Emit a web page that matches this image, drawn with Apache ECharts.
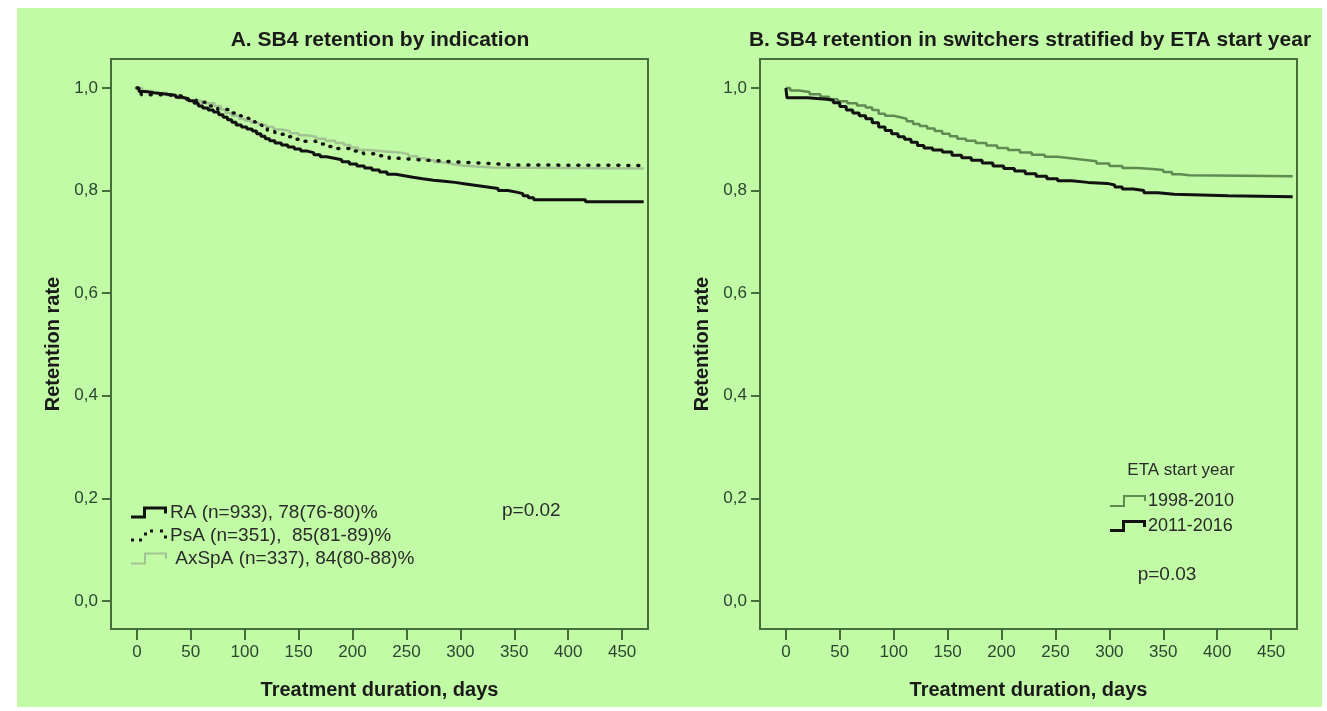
<!DOCTYPE html>
<html>
<head>
<meta charset="utf-8">
<script src="https://cdn.jsdelivr.net/npm/echarts@6/dist/echarts.min.js"></script>
<style>
  html, body { margin: 0; padding: 0; background: #ffffff; width: 1327px; height: 711px; overflow: hidden; }
  #panel { position: absolute; left: 17px; top: 8px; right: 5px; bottom: 4px; background: #c1fba5; }
  #chart { position: absolute; left: 0; top: 0; width: 1327px; height: 711px; }
</style>
</head>
<body>
<div id="panel"></div>
<div id="chart"></div>
<script>
// Axis ticks shared by both panels
const xTicks = [0, 50, 100, 150, 200, 250, 300, 350, 400, 450];
const yTicks = [0, 0.2, 0.4, 0.6, 0.8, 1.0];

// Panel A: Kaplan-Meier retention by indication (days, retention)
const raDays = [0, 2, 8, 18, 28, 36, 42, 48, 53, 57, 61, 66, 71, 76, 80, 84, 88, 92, 97, 102, 107, 111, 115, 119, 123, 128, 134, 140, 146, 152, 158, 164, 170, 176, 183, 190, 197, 204, 211, 218, 225, 232, 240, 248, 256, 265, 275, 285, 295, 305, 315, 325, 335, 344, 352, 358, 363, 368, 416, 470];
const raRetention = [1.0, 0.993, 0.99, 0.988, 0.986, 0.982, 0.979, 0.975, 0.97, 0.965, 0.961, 0.957, 0.953, 0.948, 0.943, 0.938, 0.933, 0.928, 0.924, 0.92, 0.916, 0.911, 0.906, 0.901, 0.897, 0.893, 0.889, 0.885, 0.881, 0.877, 0.874, 0.87, 0.866, 0.863, 0.86, 0.856, 0.852, 0.848, 0.844, 0.84, 0.836, 0.832, 0.829, 0.826, 0.823, 0.82, 0.818, 0.816, 0.813, 0.81, 0.807, 0.804, 0.8, 0.797, 0.794, 0.79, 0.786, 0.782, 0.778, 0.778];

const psaDays = [0, 4, 25, 45, 55, 65, 75, 85, 92, 97, 104, 110, 116, 121, 128, 136, 145, 155, 166, 176, 186, 198, 210, 222, 234, 243, 262, 280, 295, 315, 335, 345, 470];
const psaRetention = [1.0, 0.987, 0.984, 0.978, 0.972, 0.965, 0.958, 0.951, 0.946, 0.941, 0.934, 0.928, 0.921, 0.915, 0.91, 0.905, 0.9, 0.896, 0.891, 0.886, 0.882, 0.877, 0.872, 0.868, 0.863, 0.86, 0.858, 0.856, 0.854, 0.852, 0.85, 0.849, 0.849];

const axspaDays = [0, 5, 15, 28, 38, 46, 60, 72, 78, 82, 88, 95, 100, 106, 113, 120, 127, 134, 142, 150, 158, 166, 175, 184, 192, 198, 205, 215, 230, 245, 252, 260, 268, 276, 284, 292, 302, 315, 330, 470];
const axspaRetention = [1.0, 0.994, 0.99, 0.986, 0.98, 0.975, 0.97, 0.965, 0.958, 0.951, 0.946, 0.94, 0.936, 0.932, 0.928, 0.924, 0.919, 0.916, 0.912, 0.908, 0.905, 0.901, 0.897, 0.893, 0.889, 0.884, 0.879, 0.876, 0.874, 0.871, 0.867, 0.863, 0.859, 0.855, 0.852, 0.849, 0.847, 0.845, 0.843, 0.843];

// Panel B: retention in switchers by ETA start year
const earlyDays = [0, 4, 12, 22, 32, 40, 48, 57, 66, 74, 80, 86, 92, 100, 106, 112, 118, 124, 131, 138, 145, 152, 159, 167, 176, 186, 196, 206, 217, 228, 240, 252, 264, 276, 288, 300, 312, 326, 340, 350, 358, 366, 374, 470];
const earlyRetention = [1.0, 0.995, 0.992, 0.988, 0.983, 0.978, 0.974, 0.97, 0.966, 0.962, 0.957, 0.95, 0.946, 0.943, 0.94, 0.935, 0.93, 0.926, 0.921, 0.916, 0.911, 0.906, 0.901, 0.897, 0.893, 0.888, 0.883, 0.879, 0.874, 0.87, 0.866, 0.863, 0.86, 0.857, 0.853, 0.848, 0.844, 0.842, 0.84, 0.836, 0.832, 0.83, 0.828, 0.828];

const lateDays = [0, 1, 20, 38, 44, 50, 56, 62, 68, 74, 80, 86, 92, 98, 104, 110, 116, 122, 128, 136, 145, 154, 163, 172, 182, 192, 202, 212, 222, 232, 242, 252, 265, 280, 298, 305, 312, 322, 332, 345, 360, 410, 470];
const lateRetention = [1.0, 0.981, 0.978, 0.976, 0.971, 0.964, 0.957, 0.951, 0.946, 0.94, 0.932, 0.924, 0.917, 0.911, 0.905, 0.9, 0.894, 0.888, 0.883, 0.879, 0.875, 0.869, 0.864, 0.859, 0.854, 0.848, 0.843, 0.838, 0.833, 0.828, 0.823, 0.819, 0.816, 0.814, 0.811, 0.807, 0.803, 0.8, 0.796, 0.793, 0.79, 0.788, 0.788];

const seriesNamesA = ['RA (n=933), 78(76-80)%', 'PsA (n=351),  85(81-89)%', ' AxSpA (n=337), 84(80-88)%'];
const seriesNamesB = ['1998-2010', '2011-2016'];

const FONT = '"Liberation Sans", Arial, sans-serif';
const AXIS_COLOR = '#456c3b';
const LABEL_COLOR = '#2b4530';

const zip = (xs, ys) => xs.map((x, i) => [x, ys[i]]);

function makeX(gridIndex) {
  return {
    gridIndex, type: 'value', min: -24, max: 474,
    name: 'Treatment duration, days', nameLocation: 'middle', nameGap: 51,
    nameTextStyle: { fontFamily: FONT, fontWeight: 'bold', fontSize: 20, color: '#1a1a1a' },
    axisLine: { show: true, onZero: false, lineStyle: { color: AXIS_COLOR, width: 2 } },
    axisTick: { show: true, length: 11, customValues: xTicks, lineStyle: { color: AXIS_COLOR, width: 2 } },
    axisLabel: { customValues: xTicks, margin: 15, fontFamily: FONT, fontSize: 17, color: LABEL_COLOR },
    splitLine: { show: false }
  };
}

function makeY(gridIndex) {
  return {
    gridIndex, type: 'value', min: -0.0546, max: 1.0565,
    name: 'Retention rate', nameLocation: 'middle', nameGap: 48, nameRotate: 90,
    nameTextStyle: { fontFamily: FONT, fontWeight: 'bold', fontSize: 20, color: '#1a1a1a' },
    axisLine: { show: true, onZero: false, lineStyle: { color: AXIS_COLOR, width: 2 } },
    axisTick: { show: true, length: 9, customValues: yTicks, lineStyle: { color: AXIS_COLOR, width: 2 } },
    axisLabel: {
      customValues: yTicks, margin: 13, fontFamily: FONT, fontSize: 17, color: LABEL_COLOR,
      formatter: v => v.toFixed(1).replace('.', ',')
    },
    splitLine: { show: false }
  };
}

// Legend icons: Kaplan-Meier step marks
const stepThick = 'path://M0,9L12,9L12,0L36,0L36,7L33,7L33,3L15,3L15,12L0,12Z';
const stepThin = 'path://M0,10L13,10L13,0L36,0L36,6L34,6L34,2L15,2L15,12L0,12Z';
const stepDots = 'path://M0,9h3v3h-3zM8,9h3v3h-3zM13,3h3v3h-3zM19,0h3v3h-3zM29,0h3v3h-3zM33,6h3v3h-3zM33,0h3v0.01h-3z';

const colors = { ra: '#111111', psa: '#151515', axspa: '#a2c392', early: '#5f8a52', late: '#111111' };

const chart = echarts.init(document.getElementById('chart'), null, { renderer: 'canvas' });

chart.setOption({
  animation: false,
  backgroundColor: 'transparent',
  grid: [
    { left: 111, top: 59, width: 537, height: 570, show: true, borderColor: AXIS_COLOR, borderWidth: 2, backgroundColor: 'transparent' },
    { left: 760, top: 59, width: 537, height: 570, show: true, borderColor: AXIS_COLOR, borderWidth: 2, backgroundColor: 'transparent' }
  ],
  xAxis: [makeX(0), makeX(1)],
  yAxis: [makeY(0), makeY(1)],
  legend: [
    {
      left: 131, top: 503, padding: 0, orient: 'vertical', itemGap: 4, itemWidth: 36, itemHeight: 12,
      selectedMode: false, itemStyle: { borderWidth: 0 },
      textStyle: { fontFamily: FONT, fontSize: 19, color: '#2a2a2a', padding: [0, 0, 0, -2] },
      data: [
        { name: seriesNamesA[0], icon: stepThick },
        { name: seriesNamesA[1], icon: stepDots },
        { name: seriesNamesA[2], icon: stepThin }
      ]
    },
    {
      left: 1110, top: 492, padding: 0, orient: 'vertical', itemGap: 7, itemWidth: 36, itemHeight: 12,
      selectedMode: false, itemStyle: { borderWidth: 0 },
      textStyle: { fontFamily: FONT, fontSize: 18, color: '#2a2a2a', padding: [0, 0, 0, -3] },
      data: [
        { name: seriesNamesB[0], icon: stepThin },
        { name: seriesNamesB[1], icon: stepThick }
      ]
    }
  ],
  graphic: [
    { type: 'text', x: 380, y: 40, style: { text: 'A. SB4 retention by indication', font: 'bold 21px ' + FONT, fill: '#1a1a1a', textAlign: 'center', textVerticalAlign: 'middle' } },
    { type: 'text', x: 1030, y: 40, style: { text: 'B. SB4 retention in switchers stratified by ETA start year', font: 'bold 21px ' + FONT, fill: '#1a1a1a', textAlign: 'center', textVerticalAlign: 'middle' } },
    { type: 'text', x: 502, y: 511, style: { text: 'p=0.02', font: '19px ' + FONT, fill: '#2a2a2a', textAlign: 'left', textVerticalAlign: 'middle' } },
    { type: 'text', x: 1181, y: 470, style: { text: 'ETA start year', font: '17px ' + FONT, fill: '#2a2a2a', textAlign: 'center', textVerticalAlign: 'middle' } },
    { type: 'text', x: 1167, y: 575, style: { text: 'p=0.03', font: '19px ' + FONT, fill: '#2a2a2a', textAlign: 'center', textVerticalAlign: 'middle' } }
  ],
  series: [
    { name: seriesNamesA[0], type: 'line', xAxisIndex: 0, yAxisIndex: 0, step: 'end', showSymbol: false, symbol: 'none',
      color: colors.ra, lineStyle: { color: colors.ra, width: 3 }, data: zip(raDays, raRetention), z: 4 },
    { name: seriesNamesA[2], type: 'line', xAxisIndex: 0, yAxisIndex: 0, step: 'end', showSymbol: false, symbol: 'none',
      color: colors.axspa, lineStyle: { color: colors.axspa, width: 2.5 }, data: zip(axspaDays, axspaRetention), z: 2 },
    { name: seriesNamesA[1], type: 'line', xAxisIndex: 0, yAxisIndex: 0, step: 'end', showSymbol: false, symbol: 'none',
      color: colors.psa, lineStyle: { color: colors.psa, width: 3.5, type: [1, 9], cap: 'round' }, data: zip(psaDays, psaRetention), z: 3 },
    { name: seriesNamesB[0], type: 'line', xAxisIndex: 1, yAxisIndex: 1, step: 'end', showSymbol: false, symbol: 'none',
      color: colors.early, lineStyle: { color: colors.early, width: 2.5 }, data: zip(earlyDays, earlyRetention), z: 2 },
    { name: seriesNamesB[1], type: 'line', xAxisIndex: 1, yAxisIndex: 1, step: 'end', showSymbol: false, symbol: 'none',
      color: colors.late, lineStyle: { color: colors.late, width: 3 }, data: zip(lateDays, lateRetention), z: 3 }
  ]
});
</script>
</body>
</html>
